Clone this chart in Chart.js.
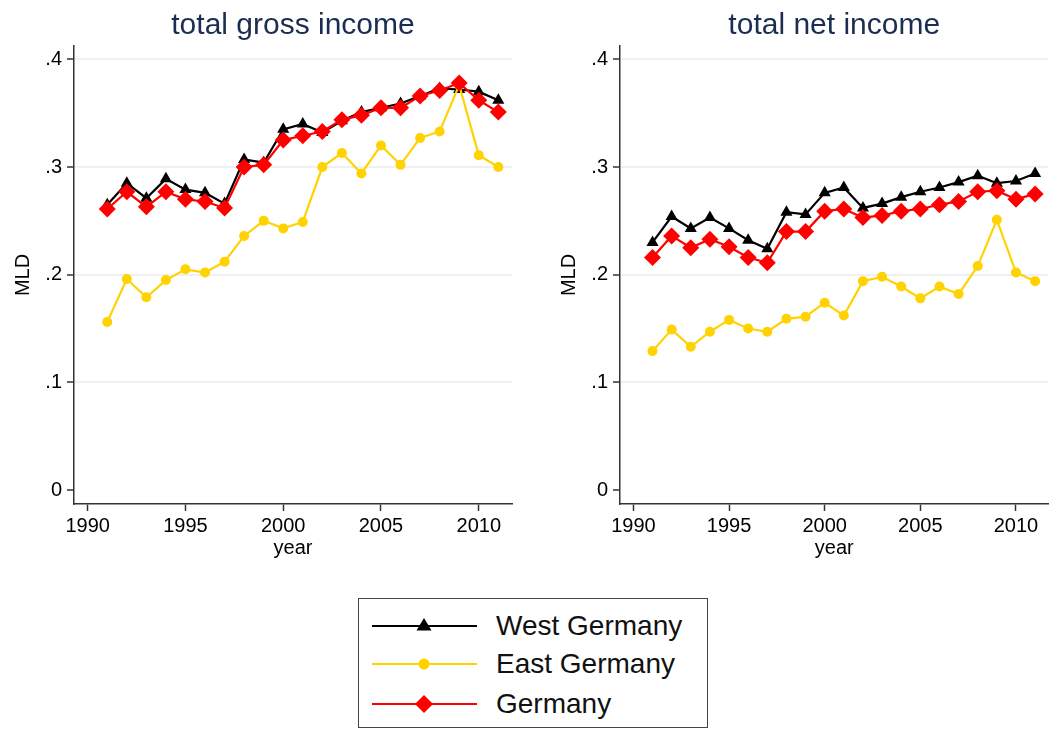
<!DOCTYPE html>
<html>
<head>
<meta charset="utf-8">
<script src="https://cdn.jsdelivr.net/npm/chart.js@4.4.1/dist/chart.umd.min.js"></script>
<style>
  body { margin: 0; background: #fff; width: 1057px; height: 729px; position: relative; overflow: hidden;
         font-family: "Liberation Sans", Arial, sans-serif; }
  #gross { position: absolute; left: 0; top: 0; }
  #net { position: absolute; left: 528px; top: 0; }
  #legend { position: absolute; left: 358px; top: 598px; width: 350px; height: 130px; box-sizing: border-box;
            border: 1.5px solid #444; background: #fff; }
  #legend .row { position: absolute; left: 13px; height: 32px; line-height: 32px; font-size: 28px; color: #111; white-space: nowrap; }
  #legend svg { position: absolute; left: 0; top: 0; }
  #legend span { position: absolute; left: 124px; top: 0; }
</style>
</head>
<body>
<canvas id="gross" width="528" height="560"></canvas>
<canvas id="net" width="529" height="560"></canvas>
<div id="legend"></div>
<script>
// data
const years = [1991, 1992, 1993, 1994, 1995, 1996, 1997, 1998, 1999, 2000, 2001,
               2002, 2003, 2004, 2005, 2006, 2007, 2008, 2009, 2010, 2011];

const grossWest = [0.265, 0.285, 0.271, 0.289, 0.279, 0.276, 0.266, 0.307, 0.304, 0.335, 0.340,
                   0.332, 0.343, 0.351, 0.355, 0.359, 0.366, 0.373, 0.372, 0.370, 0.362];
const grossEast = [0.156, 0.196, 0.179, 0.195, 0.205, 0.202, 0.212, 0.236, 0.250, 0.243, 0.249,
                   0.300, 0.313, 0.294, 0.320, 0.302, 0.327, 0.333, 0.376, 0.311, 0.300];
const grossAll  = [0.261, 0.277, 0.263, 0.277, 0.270, 0.268, 0.262, 0.300, 0.302, 0.325, 0.329,
                   0.333, 0.344, 0.348, 0.355, 0.355, 0.366, 0.371, 0.378, 0.362, 0.351];

const netWest = [0.230, 0.254, 0.243, 0.253, 0.243, 0.232, 0.224, 0.258, 0.256, 0.276, 0.281,
                 0.262, 0.266, 0.272, 0.277, 0.281, 0.286, 0.292, 0.285, 0.287, 0.294];
const netEast = [0.129, 0.149, 0.133, 0.147, 0.158, 0.150, 0.147, 0.159, 0.161, 0.174, 0.162,
                 0.194, 0.198, 0.189, 0.178, 0.189, 0.182, 0.208, 0.251, 0.202, 0.194];
const netAll  = [0.216, 0.236, 0.225, 0.233, 0.226, 0.216, 0.211, 0.240, 0.240, 0.259, 0.261,
                 0.253, 0.255, 0.259, 0.261, 0.265, 0.268, 0.277, 0.278, 0.270, 0.275];

const xTicks = [1990, 1995, 2000, 2005, 2010];
const yTicks = [0, 0.1, 0.2, 0.3, 0.4];

const seriesNames = ['West Germany', 'East Germany', 'Germany'];
const colors = ['#000000', '#ffd200', '#ff0000'];

const FONT = '"Liberation Sans", Arial, sans-serif';
const AXIS = '#333333';

function points(vals) {
  return years.map((yr, i) => ({ x: yr, y: vals[i] }));
}

function makePanel(id, title, west, east, all, yWidth, padRight, yTitlePad) {
  const ctx = document.getElementById(id).getContext('2d');
  return new Chart(ctx, {
    type: 'line',
    data: {
      datasets: [{
        label: seriesNames[0], data: points(west), order: 2,
        borderColor: colors[0], backgroundColor: colors[0], borderWidth: 2.2,
        pointStyle: 'triangle', pointRadius: 7, pointBorderWidth: 0, tension: 0
      }, {
        label: seriesNames[1], data: points(east), order: 1,
        borderColor: colors[1], backgroundColor: colors[1], borderWidth: 2.2,
        pointStyle: 'circle', pointRadius: 5, pointBorderWidth: 0, tension: 0
      }, {
        label: seriesNames[2], data: points(all), order: 0,
        borderColor: colors[2], backgroundColor: colors[2], borderWidth: 2.2,
        pointStyle: 'rectRot', pointRadius: 8.5, pointBorderWidth: 0, tension: 0
      }]
    },
    options: {
      responsive: false,
      animation: false,
      layout: { padding: { top: 0, right: padRight, bottom: 0, left: 0 } },
      plugins: {
        legend: { display: false },
        tooltip: { enabled: false },
        title: {
          display: true, text: title, color: '#1c2d52', fullSize: false,
          font: { family: FONT, size: 30, weight: 'normal' },
          padding: { top: 8, bottom: 2 }
        }
      },
      scales: {
        x: {
          type: 'linear', min: 1989.3, max: 2011.7,
          afterBuildTicks: s => { s.ticks = xTicks.map(v => ({ value: v })); },
          afterFit: s => { s.height = 56; s.paddingLeft = 0; s.paddingRight = 0; },
          ticks: { color: '#000', padding: 3, font: { family: FONT, size: 20 }, callback: v => String(v), maxRotation: 0 },
          grid: { drawOnChartArea: false, drawTicks: true, tickLength: 7, tickColor: AXIS, tickWidth: 1.5 },
          border: { display: true, color: AXIS, width: 1.5 },
          title: { display: true, text: 'year', color: '#000', font: { family: FONT, size: 20 }, padding: { top: 0, bottom: 0 } }
        },
        y: {
          min: -0.013, max: 0.4124,
          afterBuildTicks: s => { s.ticks = yTicks.map(v => ({ value: v })); },
          afterFit: s => { s.width = yWidth; s.paddingTop = 0; s.paddingBottom = 0; },
          ticks: { color: '#000', padding: 5, font: { family: FONT, size: 20 },
                   callback: v => v === 0 ? '0' : v.toFixed(1).replace(/^0/, '') },
          grid: {
            drawTicks: true, tickLength: 7, tickColor: AXIS, tickWidth: 1.5, lineWidth: 2,
            color: c => (c.tick && c.tick.value === 0) ? 'rgba(0,0,0,0)' : '#edf1f6'
          },
          border: { display: true, color: AXIS, width: 1.5 },
          title: { display: true, text: 'MLD', color: '#000', font: { family: FONT, size: 20 }, padding: { top: yTitlePad, bottom: 0 } }
        }
      }
    }
  });
}

makePanel('gross', 'total gross income', grossWest, grossEast, grossAll, 74, 16, 11);
makePanel('net', 'total net income', netWest, netEast, netAll, 92, 7, 29);

// shared legend box under both panels
const markers = [
  '<polygon points="52,8 59.5,20.5 44.5,20.5" fill="#000"/>',
  '<circle cx="52" cy="16" r="5.5" fill="#ffd200"/>',
  '<polygon points="52,7 61,16 52,25 43,16" fill="#ff0000"/>'
];
const rowTops = [11, 49, 89];
const legend = document.getElementById('legend');
seriesNames.forEach((name, i) => {
  const row = document.createElement('div');
  row.className = 'row';
  row.style.top = rowTops[i] + 'px';
  row.innerHTML = '<svg width="105" height="32"><line x1="0" y1="16" x2="105" y2="16" stroke="' + colors[i] +
    '" stroke-width="2"/>' + markers[i] + '</svg><span>' + name + '</span>';
  legend.appendChild(row);
});
</script>
</body>
</html>
